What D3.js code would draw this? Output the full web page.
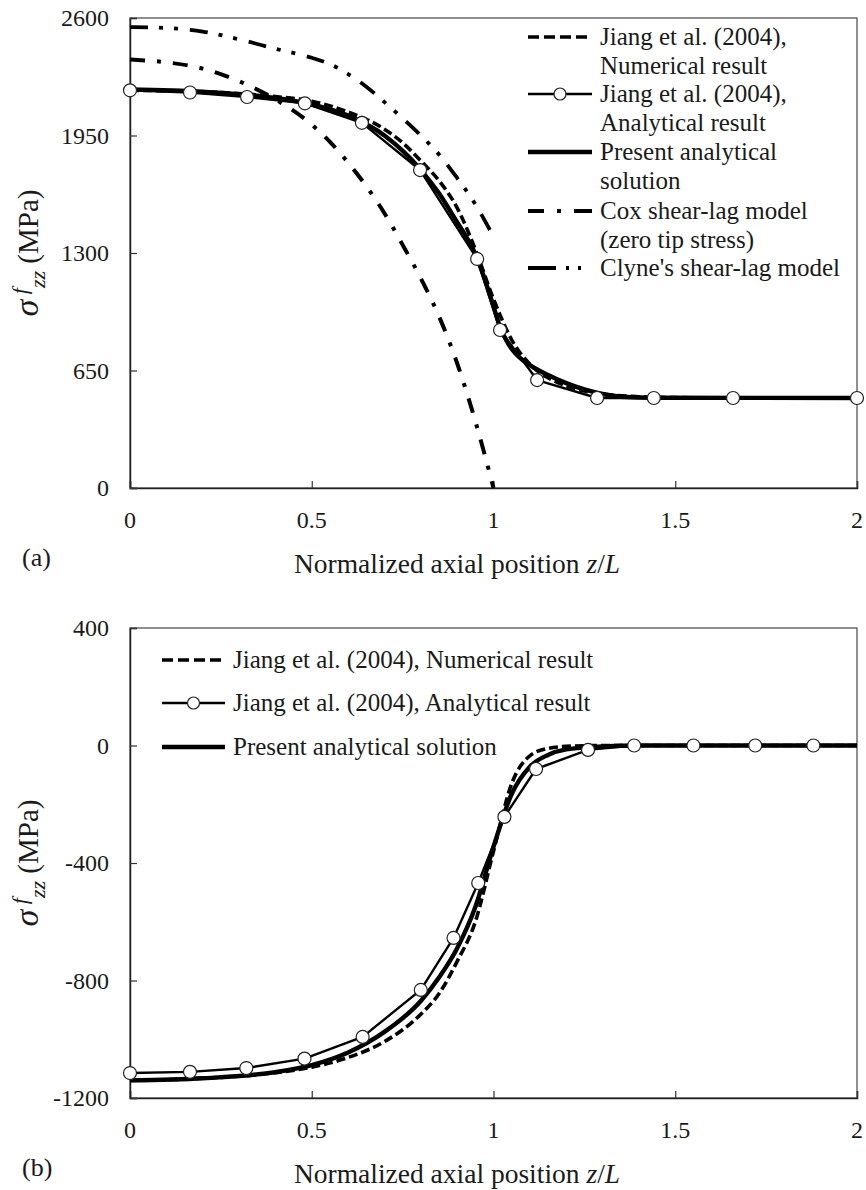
<!DOCTYPE html>
<html>
<head>
<meta charset="utf-8">
<script src="https://cdn.jsdelivr.net/npm/d3@7"></script>
<style>
  body { margin: 0; background: #fff; }
  svg text { font-family: "Liberation Serif", "Times New Roman", serif; fill: #1a1a1a; }
</style>
</head>
<body>
<div id="chart"></div>
<script>
// ---- data ----
var xTicks = [0, 0.5, 1, 1.5, 2];
var xTickLabels = ["0", "0.5", "1", "1.5", "2"];

// panel (a)
var yTicksA = [0, 650, 1300, 1950, 2600];
var zNumA = [0, 0.2, 0.4, 0.5, 0.6, 0.7, 0.75, 0.8, 0.85, 0.9, 0.95, 1.0, 1.05, 1.1, 1.15, 1.2, 1.3, 1.4, 1.5, 2.0];
var numA  = [2200, 2192, 2165, 2140, 2080, 1985, 1910, 1810, 1700, 1550, 1320, 1045, 820, 685, 610, 565, 520, 505, 500, 498];
var zAnaA = [0, 0.165, 0.322, 0.481, 0.638, 0.798, 0.955, 1.018, 1.12, 1.285, 1.441, 1.659, 2.0];
var anaA  = [2200, 2188, 2163, 2128, 2020, 1759, 1267, 874, 597, 498, 498, 498, 498];
var zPreA = [0, 0.2, 0.4, 0.5, 0.6, 0.7, 0.8, 0.85, 0.9, 0.925, 0.95, 0.975, 1.0, 1.02, 1.04, 1.06, 1.08, 1.1, 1.15, 1.2, 1.25, 1.3, 1.35, 1.45, 2.0];
var preA  = [2205, 2192, 2158, 2122, 2060, 1950, 1760, 1630, 1470, 1390, 1295, 1160, 1005, 880, 800, 745, 708, 680, 625, 580, 545, 520, 505, 499, 498];
var zCox  = [0, 0.1, 0.2, 0.3, 0.4, 0.5, 0.55, 0.6, 0.65, 0.7, 0.75, 0.8, 0.85, 0.9, 0.95, 1.0];
var cox   = [2370, 2355, 2320, 2250, 2150, 2010, 1915, 1800, 1670, 1520, 1345, 1160, 950, 690, 370, 0];
var zCly  = [0, 0.1, 0.2, 0.3, 0.4, 0.5, 0.55, 0.6, 0.65, 0.7, 0.75, 0.8, 0.85, 0.9, 0.95, 1.0];
var cly   = [2550, 2545, 2525, 2482, 2430, 2380, 2345, 2290, 2220, 2135, 2045, 1950, 1845, 1715, 1570, 1390];

// panel (b)
var yTicksB = [-1200, -800, -400, 0, 400];
var zNumB = [0, 0.2, 0.4, 0.5, 0.6, 0.7, 0.8, 0.85, 0.9, 0.95, 1.0, 1.05, 1.1, 1.15, 1.2, 1.3, 2.0];
var numB  = [-1140, -1133, -1114, -1095, -1062, -1008, -915, -845, -735, -600, -360, -130, -35, -10, -3, 0, 0];
var zAnaB = [0, 0.165, 0.32, 0.48, 0.64, 0.80, 0.89, 0.958, 1.03, 1.117, 1.26, 1.387, 1.55, 1.72, 1.88];
var anaB  = [-1115, -1111, -1098, -1066, -992, -832, -655, -468, -243, -80, -15, 0, 0, 0, 0];
var zPreB = [0, 0.2, 0.4, 0.5, 0.6, 0.7, 0.8, 0.85, 0.9, 0.95, 1.0, 1.05, 1.1, 1.15, 1.2, 1.3, 1.4, 2.0];
var preB  = [-1140, -1133, -1112, -1088, -1045, -975, -870, -790, -690, -550, -345, -165, -72, -32, -13, -3, 0, 0];

var legendA = [
  {lines: ["Jiang et al. (2004),", "Numerical result"], style: "num"},
  {lines: ["Jiang et al. (2004),", "Analytical result"], style: "ana"},
  {lines: ["Present analytical", "solution"], style: "pre"},
  {lines: ["Cox shear-lag model", "(zero tip stress)"], style: "cox"},
  {lines: ["Clyne's shear-lag model"], style: "cly"}
];
var legendB = [
  {lines: ["Jiang et al. (2004), Numerical result"], style: "num"},
  {lines: ["Jiang et al. (2004), Analytical result"], style: "ana"},
  {lines: ["Present analytical solution"], style: "pre"}
];

function zip(xs, ys) { return xs.map(function (x, i) { return [x, ys[i]]; }); }

var styles = {
  num: {w: 3.6, dash: "9,4", legDash: "11,5"},
  ana: {w: 2.4, dash: null, legDash: null},
  pre: {w: 4.4, dash: null, legDash: null},
  cox: {w: 4, dash: "15,12,4,12", legDash: "16,13,4,13,18"},
  cly: {w: 3.8, dash: "18,11,4,11,4,12", legDash: "28,10,3,9,3,20"}
};

var svg = d3.select("#chart").append("svg")
    .attr("width", 866)
    .attr("height", 1190);

function panel(cfg) {
  var x = d3.scaleLinear().domain([0, 2]).range([130, 857]);
  var y = d3.scaleLinear().domain(cfg.yDomain).range([cfg.bottom, cfg.top]);
  var g = svg.append("g");

  // frame
  g.append("rect")
      .attr("x", 130).attr("y", cfg.top)
      .attr("width", 727).attr("height", cfg.bottom - cfg.top)
      .attr("fill", "none").attr("stroke", "#555").attr("stroke-width", 1.3);

  // axes, ticks inside
  var xa = g.append("g")
      .attr("transform", "translate(0," + cfg.bottom + ")")
      .call(d3.axisTop(x).tickValues(xTicks).tickSize(7).tickFormat(""));
  xa.select(".domain").attr("stroke", "#222").attr("stroke-width", 1.5);
  xa.selectAll("line").attr("stroke", "#333").attr("stroke-width", 1.2);

  var ya = g.append("g")
      .attr("transform", "translate(130,0)")
      .call(d3.axisRight(y).tickValues(cfg.yTicks).tickSize(7).tickFormat(""));
  ya.select(".domain").attr("stroke", "#222").attr("stroke-width", 1.5);
  ya.selectAll("line").attr("stroke", "#333").attr("stroke-width", 1.2);

  g.selectAll(".xl").data(xTicks).enter().append("text")
      .attr("x", function (d) { return x(d); })
      .attr("y", cfg.bottom + 40)
      .attr("text-anchor", "middle")
      .attr("font-size", 24)
      .text(function (d, i) { return xTickLabels[i]; });

  g.selectAll(".yl").data(cfg.yTicks).enter().append("text")
      .attr("x", 109)
      .attr("y", function (d) { return y(d) + 8; })
      .attr("text-anchor", "end")
      .attr("font-size", 24)
      .text(function (d) { return d; });

  // axis titles
  var xt = g.append("text")
      .attr("x", 457).attr("y", cfg.bottom + 85)
      .attr("text-anchor", "middle")
      .attr("font-size", 27.5);
  xt.append("tspan").text("Normalized axial position ");
  xt.append("tspan").attr("font-style", "italic").text("z");
  xt.append("tspan").text("/");
  xt.append("tspan").attr("font-style", "italic").text("L");

  g.append("text")
      .attr("x", 22).attr("y", cfg.bottom + 78)
      .attr("font-size", 26)
      .text(cfg.tag);

  var yc = (cfg.top + cfg.bottom) / 2;
  var yt = g.append("text")
      .attr("transform", "translate(38," + yc + ") rotate(-90)")
      .attr("text-anchor", "middle")
      .attr("font-size", 29);
  yt.append("tspan").attr("font-style", "italic").attr("font-size", 34).text("σ");
  yt.append("tspan").attr("font-style", "italic").attr("font-size", 22).attr("dy", -11).text(" f");
  yt.append("tspan").attr("font-style", "italic").attr("font-size", 22).attr("dy", 18).text("zz");
  yt.append("tspan").attr("dy", -7).text(" (MPa)");

  var line = d3.line()
      .x(function (d) { return x(d[0]); })
      .y(function (d) { return y(d[1]); });

  var plot = g.append("g");
  cfg.series.forEach(function (s) {
    var st = styles[s.style];
    plot.append("path")
        .datum(s.data)
        .attr("fill", "none")
        .attr("stroke", "#000")
        .attr("stroke-width", st.w)
        .attr("stroke-dasharray", st.dash)
        .attr("stroke-linejoin", "round")
        .attr("d", line.curve(s.style === "ana" ? d3.curveLinear : d3.curveMonotoneX));
    if (s.style === "ana") {
      plot.selectAll(null).data(s.data).enter().append("circle")
          .attr("cx", function (d) { return x(d[0]); })
          .attr("cy", function (d) { return y(d[1]); })
          .attr("r", 6.5)
          .attr("fill", "#fff")
          .attr("stroke", "#222")
          .attr("stroke-width", 1.2);
    }
  });

  // legend
  var lg = g.append("g");
  cfg.legend.forEach(function (item, i) {
    var ly = cfg.legY[i];
    var st = styles[item.style];
    lg.append("line")
        .attr("x1", cfg.legX[0]).attr("x2", cfg.legX[1])
        .attr("y1", ly).attr("y2", ly)
        .attr("stroke", "#000")
        .attr("stroke-width", st.w)
        .attr("stroke-dasharray", st.legDash);
    if (item.style === "ana") {
      lg.append("circle")
          .attr("cx", (cfg.legX[0] + cfg.legX[1]) / 2).attr("cy", ly)
          .attr("r", 6).attr("fill", "#fff")
          .attr("stroke", "#222").attr("stroke-width", 1.2);
    }
    item.lines.forEach(function (t, j) {
      lg.append("text")
          .attr("x", cfg.legX[1] + 8)
          .attr("y", ly + j * 29 + 8)
          .attr("font-size", 25)
          .text(t);
    });
  });
}

panel({
  top: 18, bottom: 488, yDomain: [0, 2600], yTicks: yTicksA, tag: "(a)",
  series: [
    {style: "cox", data: zip(zCox, cox)},
    {style: "cly", data: zip(zCly, cly)},
    {style: "num", data: zip(zNumA, numA)},
    {style: "pre", data: zip(zPreA, preA)},
    {style: "ana", data: zip(zAnaA, anaA)}
  ],
  legend: legendA, legX: [528, 592], legY: [37, 94, 152, 211, 268]
});

panel({
  top: 628, bottom: 1098, yDomain: [-1200, 400], yTicks: yTicksB, tag: "(b)",
  series: [
    {style: "num", data: zip(zNumB, numB)},
    {style: "pre", data: zip(zPreB, preB)},
    {style: "ana", data: zip(zAnaB, anaB)}
  ],
  legend: legendB, legX: [162, 225], legY: [660, 703, 747]
});
</script>
</body>
</html>
